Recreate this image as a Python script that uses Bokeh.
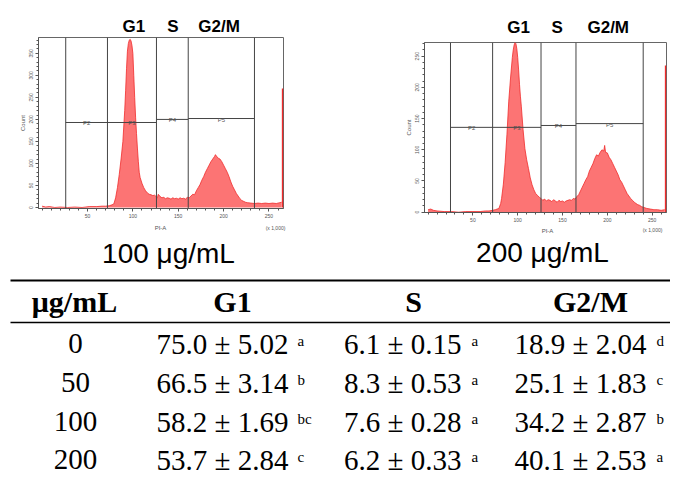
from bokeh.plotting import figure
from bokeh.models import Range1d, FixedTicker
from bokeh.layouts import row, column
from bokeh.embed import file_html
from bokeh.resources import INLINE
from bokeh.core.properties import value

# ---------------- data ----------------
# PI-A (x 1,000) and cell counts, 100 ug/mL
pi_100 = [0, 4, 8, 14, 20, 28, 36, 44, 52, 60, 66, 70, 74, 77, 79, 81, 83, 85, 87, 89,
          91, 92, 93, 94, 95, 96, 97, 98, 99, 100, 101, 102, 103, 104, 105, 106, 107, 108, 110, 112,
          114, 116, 118, 120, 122, 124, 126, 127, 128, 130, 132, 134, 136, 138, 140, 142, 144, 146, 148, 150,
          152, 154, 156, 158, 160, 162, 164, 166, 168, 170, 172, 174, 176, 178, 180, 182, 184, 186, 188, 190,
          191, 192, 194, 196, 198, 200, 202, 204, 206, 208, 210, 212, 214, 216, 218, 220, 222, 224, 226, 230,
          234, 238, 242, 246, 250, 254, 258, 262, 264]
count_100 = [3, 1, 2, 0, 1, 0, 1, 0, 2, 2, 3, 3, 4, 6, 8, 22, 45, 75, 110, 150,
             220, 265, 315, 355, 372, 380, 382, 378, 368, 350, 300, 250, 205, 168, 135, 105, 80, 68, 55, 45,
             38, 33, 30, 29, 27, 28, 24, 22, 30, 25, 22, 23, 20, 22, 21, 19, 22, 20, 21, 19,
             22, 20, 21, 19, 23, 22, 26, 30, 29, 38, 45, 52, 62, 70, 80, 88, 96, 104, 110, 116,
             120, 117, 112, 110, 104, 96, 88, 80, 70, 58, 48, 40, 32, 26, 20, 16, 14, 12, 11, 10,
             9, 10, 9, 10, 9, 10, 9, 11, 12]
# PI-A (x 1,000) and cell counts, 200 ug/mL
pi_200 = [0, 3, 6, 10, 18, 26, 34, 42, 50, 58, 64, 68, 72, 75, 77, 79, 81, 82, 84, 86,
          88, 90, 92, 94, 95, 96, 97, 98, 99, 100, 101, 102, 103, 104, 106, 108, 110, 112, 114, 116,
          118, 120, 122, 124, 126, 128, 130, 132, 134, 136, 138, 140, 142, 144, 146, 148, 150, 152, 154, 156,
          158, 160, 162, 164, 166, 168, 170, 172, 174, 176, 178, 180, 182, 184, 186, 188, 190, 192, 194, 196,
          197, 198, 200, 202, 204, 206, 208, 210, 212, 214, 216, 218, 220, 222, 224, 226, 228, 230, 232, 234,
          236, 238, 240, 244, 248, 252, 256, 260, 264]
count_200 = [4, 5, 3, 2, 1, 1, 0, 1, 1, 1, 2, 2, 3, 4, 5, 6, 14, 22, 45, 80,
             125, 178, 215, 248, 260, 268, 272, 270, 262, 248, 228, 205, 186, 170, 132, 102, 84, 70, 55, 44,
             36, 30, 27, 24, 22, 19, 21, 18, 20, 19, 17, 20, 18, 16, 19, 17, 18, 16, 18, 19,
             20, 19, 22, 21, 25, 28, 34, 40, 46, 52, 57, 66, 72, 78, 86, 92, 90, 96, 100, 98,
             107, 96, 95, 88, 84, 78, 72, 66, 60, 52, 48, 42, 36, 30, 26, 22, 19, 16, 14, 12,
             11, 9, 8, 6, 5, 4, 4, 3, 4]
edge_pi = 265
edge_count_100 = 270
edge_count_200 = 235

# gates (PI-A boundaries) and gate levels (counts)
gate_names = ["P2", "P3", "P4", "P5"]
gates_100 = [26, 72, 126, 161, 234]
levels_100 = [193, 193, 200, 202]
gates_200 = [25, 72, 126, 165, 240]
levels_200 = [136, 136, 139, 142]

phase_names = ["G1", "S", "G2/M"]
captions = ["100 \u03bcg/mL", "200 \u03bcg/mL"]
axis_title = "PI-A"
axis_unit = "(x 1,000)"

# table
header = ["\u03bcg/mL", "G1", "S", "G2/M"]
conc = ["0", "50", "100", "200"]
g1_mean = [75.0, 66.5, 58.2, 53.7]
g1_sd = [5.02, 3.14, 1.69, 2.84]
g1_sig = ["a", "b", "bc", "c"]
s_mean = [6.1, 8.3, 7.6, 6.2]
s_sd = [0.15, 0.53, 0.28, 0.33]
s_sig = ["a", "a", "a", "a"]
g2_mean = [18.9, 25.1, 34.2, 40.1]
g2_sd = [2.04, 1.83, 2.87, 2.53]
g2_sig = ["d", "c", "b", "a"]

# ---------------- styles ----------------
FILL = "#fc7474"
EDGE = "#f02c2c"
GRAY = "#555555"
SANS = "Liberation Sans"
SERIF = "Liberation Serif"


def base(y, size, k=0.33):
    # place the text so its baseline lands near pixel row y
    return y - k * size


def bare(width, height, xr, yr, bl=0, br=0):
    f = figure(width=width, height=height, x_range=xr, y_range=yr,
               output_backend="svg", toolbar_location=None, x_axis_location=None,
               y_axis_location=None, min_border_left=bl, min_border_right=br,
               min_border_top=0, min_border_bottom=0)
    f.grid.visible = False
    f.outline_line_color = None
    return f


def hist(pi, cnt, gates, levels, edge_count, ymin, ymax, ytick_max, width, height,
         bl, br, bb, title_h, title_base, phase_x):
    p = figure(width=width, height=height, x_range=Range1d(-4, 266),
               y_range=Range1d(ymin, ymax), output_backend="svg",
               toolbar_location=None, min_border_left=bl, min_border_right=br,
               min_border_top=1, min_border_bottom=bb)
    p.grid.visible = False
    p.outline_line_color = "#666666"
    p.varea(x=pi, y1=[0] * len(pi), y2=cnt, fill_color=FILL)
    p.line(pi, cnt, line_color=EDGE, line_width=0.8)
    p.segment(x0=[edge_pi], y0=[0], x1=[edge_pi], y1=[edge_count],
              line_color=EDGE, line_width=1.5)
    # gates
    p.segment(x0=gates, y0=[ymin] * len(gates), x1=gates, y1=[ymax] * len(gates),
              line_color="#444444", line_width=1)
    p.segment(x0=gates[:-1], y0=levels, x1=gates[1:], y1=levels,
              line_color="#444444", line_width=1)
    mids = [(a + b) / 2 for a, b in zip(gates[:-1], gates[1:])]
    p.text(x=mids, y=levels, text=gate_names, text_font=value(SANS),
           text_font_size="6px", text_color="#555555", text_align="center",
           text_baseline="middle", y_offset=1)
    # axes
    p.xaxis.ticker = FixedTicker(ticks=[50, 100, 150, 200, 250],
                                 minor_ticks=list(range(0, 270, 10)))
    p.yaxis.ticker = FixedTicker(ticks=list(range(0, ytick_max + 1, 50)),
                                 minor_ticks=list(range(0, int(ymax), 10)))
    p.yaxis.major_label_orientation = "vertical"
    p.yaxis.axis_label = "Count"
    for ax in (p.xaxis, p.yaxis):
        ax.axis_line_color = GRAY
        ax.major_tick_line_color = GRAY
        ax.minor_tick_line_color = GRAY
        ax.major_tick_out = 3
        ax.major_tick_in = 0
        ax.minor_tick_out = 2
        ax.minor_tick_in = 0
        ax.major_label_text_font = SANS
        ax.major_label_text_font_size = "5px"
        ax.major_label_text_color = GRAY
        ax.major_label_standoff = 2
        ax.axis_label_text_font = SANS
        ax.axis_label_text_font_size = "6px"
        ax.axis_label_text_font_style = "normal"
        ax.axis_label_text_color = GRAY
        ax.axis_label_standoff = 1
    # phase titles above the plot, sharing the PI-A scale
    t = bare(width, title_h, p.x_range, Range1d(title_h, 0), bl, br)
    t.text(x=phase_x, y=[base(title_base, 17, 0.37)] * 3, text=phase_names,
           text_font=value(SANS), text_font_size="17px", text_font_style="bold",
           text_align="center", text_baseline="alphabetic", text_color="black")
    return column(t, p, spacing=0)


TOPROW = 225
c1 = hist(pi_100, count_100, gates_100, levels_100, edge_count_100, -2.3, 386, 350,
          340, TOPROW - 36, 38, 57, TOPROW - 36 - 1 - 171, 36, 32, [101, 144, 195])
c2 = hist(pi_200, count_200, gates_200, levels_200, edge_count_200, -0.5, 272, 250,
          330, TOPROW - 41, 84, 4, TOPROW - 41 - 1 - 170, 41, 33, [101, 144, 201])

# ---------------- axis titles, captions + table ----------------
TW, TOP = 670, TOPROW
TH = 476 - TOP
tb = bare(TW, TH, Range1d(0, TW), Range1d(TH, 0))
tb.text(x=[160, 547], y=[base(229 - TOP, 6), base(232 - TOP, 6)], text=[axis_title] * 2,
        text_font=value(SANS), text_font_size="6px", text_align="center",
        text_baseline="alphabetic", text_color=GRAY)
tb.text(x=[275, 652], y=[base(229 - TOP, 5), base(231 - TOP, 5)], text=[axis_unit] * 2,
        text_font=value(SANS), text_font_size="5px", text_align="center",
        text_baseline="alphabetic", text_color=GRAY)
tb.text(x=[168, 542], y=[base(263 - TOP, 28, 0.37), base(262 - TOP, 28, 0.37)],
        text=captions, text_font=value(SANS), text_font_size="28px", text_align="center",
        text_baseline="alphabetic", text_color="black")
tb.segment(x0=[10], y0=[280 - TOP], x1=[TW], y1=[280 - TOP], line_color="black", line_width=2.2)
tb.segment(x0=[10], y0=[322 - TOP], x1=[TW], y1=[322 - TOP], line_color="black", line_width=1.3)

head_x = [74, 232, 413, 590]
tb.text(x=head_x, y=[base(312 - TOP, 30, 0.37)] * 4, text=header, text_font=value(SERIF),
        text_font_size="30px", text_font_style="bold", text_align="center",
        text_baseline="alphabetic", text_color="black")

row_y = [353 - TOP, 392 - TOP, 431 - TOP, 469 - TOP]
tb.text(x=[75] * 4, y=[base(y, 29) for y in row_y], text=conc, text_font=value(SERIF),
        text_font_size="29px", text_align="center", text_baseline="alphabetic",
        text_color="black")

col_right = [288, 461, 646]
col_sup = [297, 471, 656]
for (means, sds, sigs), xr, xs in zip([(g1_mean, g1_sd, g1_sig), (s_mean, s_sd, s_sig),
                                       (g2_mean, g2_sd, g2_sig)], col_right, col_sup):
    txt = [f"{m:.1f} \u00b1 {s:.2f}" for m, s in zip(means, sds)]
    tb.text(x=[xr] * 4, y=[base(y, 29) for y in row_y], text=txt, text_font=value(SERIF),
            text_font_size="29px", text_align="right", text_baseline="alphabetic",
            text_color="black")
    tb.text(x=[xs] * 4, y=[base(y - 8, 15) for y in row_y], text=sigs,
            text_font=value(SERIF), text_font_size="15px", text_align="left",
            text_baseline="alphabetic", text_color="black")

layout = column(row(c1, c2, spacing=0), tb, spacing=0)
open("out.html", "w").write(file_html(layout, INLINE))
